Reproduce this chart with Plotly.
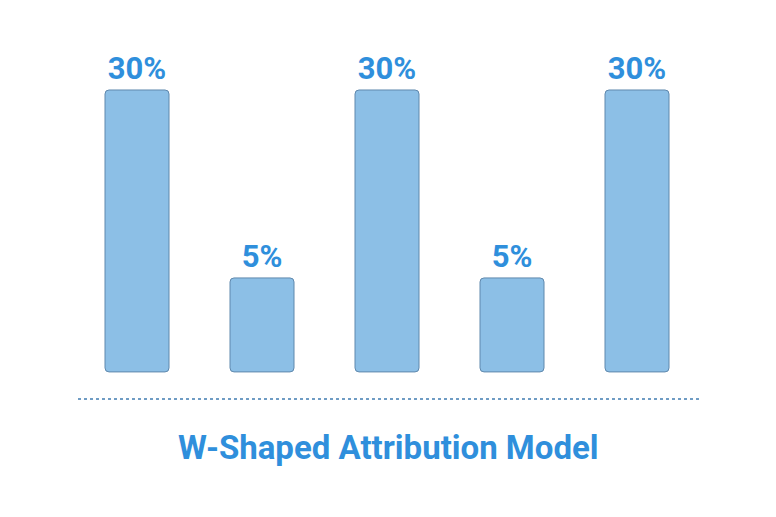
import plotly.graph_objects as go

# Parts de crédit du modèle W (libellés) et hauteur visuelle des barres
stages = ["1", "2", "3", "4", "5"]
shares = [30, 5, 30, 5, 30]
labels = ["30%", "5%", "30%", "5%", "30%"]
BASE = -7.5  # les barres partent d'un socle commun

# la page ajoute ~8 px de marge : on compense
DX = 8 / 125
DY = 8 / 7.52

fig = go.Figure(go.Bar(
    x=list(range(len(stages))), y=[s - BASE for s in shares], base=BASE,
    width=0.512,
    marker=dict(color="#8cbfe6", line=dict(color="#5f88ad", width=1), cornerradius=4),
    text=labels, textposition="outside", cliponaxis=False, constraintext="none",
    textfont=dict(family="Roboto", size=31, color="#2f8fdc", weight="bold"),
    hoverinfo="skip",
))

fig.add_shape(type="line", xref="paper", yref="paper", x0=70/776, x1=692/776,
              y0=1-391/517, y1=1-391/517,
              line=dict(color="#6f9cc4", width=2, dash="dot"))

fig.add_annotation(text="W-Shaped Attribution Model", xref="paper", yref="paper",
                   x=(388-8)/776, y=1-439/517, yanchor="middle", showarrow=False,
                   font=dict(family="Roboto", size=33, color="#2f8fdc", weight="bold"))

fig.update_layout(
    width=776, height=517, margin=dict(l=0, r=0, t=0, b=0),
    plot_bgcolor="white", paper_bgcolor="white", showlegend=False,
    xaxis=dict(range=[-1.096 + DX, 5.112 + DX], visible=False),
    yaxis=dict(range=[-26.8 - DY, 41.97 - DY], visible=False),
)

fig.write_html("out.html")
